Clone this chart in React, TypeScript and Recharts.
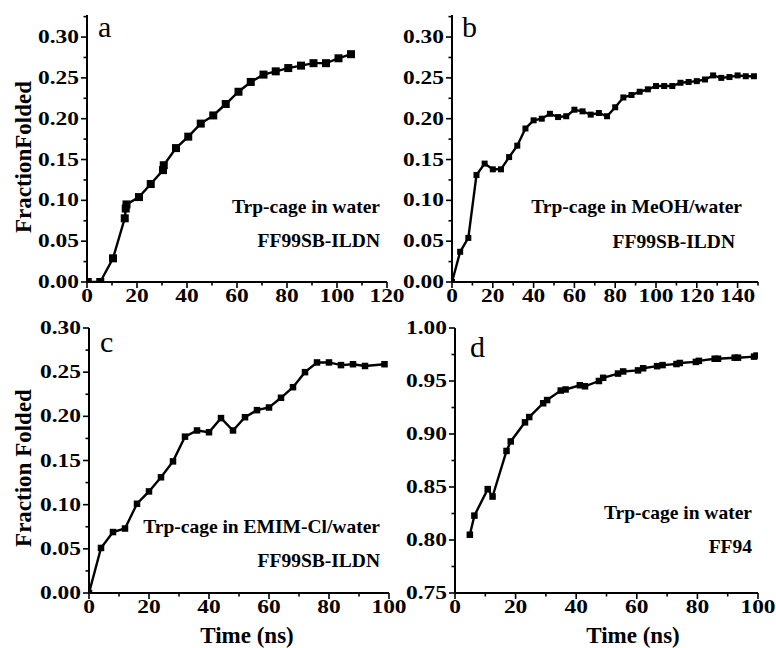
import React from "react";
import { LineChart, Line, XAxis, YAxis } from "recharts";

// panel a: Trp-cage in water, FF99SB-ILDN
const timeA = [0.3, 5.3, 10.4, 15.1, 15.5, 15.8, 20.8, 25.5, 30.4, 30.7, 35.6, 40.5, 45.5, 50.5, 55.5, 60.6, 65.5, 70.6, 75.5, 80.5, 85.6, 90.6, 95.6, 100.6, 105.6];
const foldA = [0, 0, 0.029, 0.078, 0.09, 0.095, 0.104, 0.12, 0.137, 0.143, 0.164, 0.178, 0.194, 0.204, 0.218, 0.233, 0.245, 0.254, 0.258, 0.262, 0.265, 0.268, 0.268, 0.274, 0.279];

// panel b: Trp-cage in MeOH/water
const timeB = [0, 4, 8, 12, 16, 20, 24, 28, 32, 36, 40, 44, 48, 52, 56, 60, 64, 68, 72, 76, 80, 84, 88, 92, 96, 100, 104, 108, 112, 116, 120, 124, 128, 132, 136, 140, 144, 148];
const foldB = [0, 0.037, 0.054, 0.131, 0.145, 0.138, 0.138, 0.153, 0.167, 0.188, 0.198, 0.2, 0.206, 0.202, 0.203, 0.211, 0.209, 0.205, 0.207, 0.203, 0.214, 0.226, 0.229, 0.233, 0.236, 0.24, 0.24, 0.24, 0.244, 0.245, 0.246, 0.248, 0.253, 0.25, 0.251, 0.253, 0.252, 0.252];

// panel c: Trp-cage in EMIM-Cl/water
const timeC = [0, 4, 8, 12, 16, 20, 24, 28, 32, 36, 40, 44, 48, 52, 56, 60, 64, 68, 72, 76, 80, 84, 88, 92, 98.5];
const foldC = [0, 0.051, 0.069, 0.073, 0.101, 0.115, 0.131, 0.149, 0.177, 0.184, 0.182, 0.198, 0.184, 0.199, 0.207, 0.21, 0.221, 0.233, 0.25, 0.261, 0.261, 0.258, 0.259, 0.257, 0.259];

// panel d: Trp-cage in water, FF94
const timeD = [4.9, 6.4, 10.8, 12.4, 17.0, 18.4, 23.1, 24.5, 29.1, 30.4, 34.9, 36.5, 41.2, 42.9, 47.5, 48.9, 53.8, 55.5, 60.4, 62.1, 66.7, 68.5, 73.1, 74.2, 79.5, 80.5, 85.7, 86.8, 92.3, 93.4, 98.7, 99.5];
const foldD = [0.805, 0.823, 0.848, 0.841, 0.884, 0.893, 0.911, 0.916, 0.929, 0.932, 0.941, 0.942, 0.946, 0.945, 0.95, 0.953, 0.957, 0.959, 0.96, 0.962, 0.964, 0.965, 0.966, 0.967, 0.968, 0.969, 0.971, 0.971, 0.972, 0.972, 0.973, 0.974];

// ticks
const xTicks120 = [0, 10, 20, 30, 40, 50, 60, 70, 80, 90, 100, 110, 120];
const xLabels120 = [0, 20, 40, 60, 80, 100, 120];
const xTicks150 = [0, 10, 20, 30, 40, 50, 60, 70, 80, 90, 100, 110, 120, 130, 140, 150];
const xLabels150 = [0, 20, 40, 60, 80, 100, 120, 140];
const xTicks100 = [0, 10, 20, 30, 40, 50, 60, 70, 80, 90, 100];
const xLabels100 = [0, 20, 40, 60, 80, 100];
const yTicksLow = [0, 0.025, 0.05, 0.075, 0.1, 0.125, 0.15, 0.175, 0.2, 0.225, 0.25, 0.275, 0.3, 0.325];
const yLabelsLow = [0, 0.05, 0.1, 0.15, 0.2, 0.25, 0.3];
const yTicksHigh = [0.75, 0.775, 0.8, 0.825, 0.85, 0.875, 0.9, 0.925, 0.95, 0.975, 1.0];
const yLabelsHigh = [0.75, 0.8, 0.85, 0.9, 0.95, 1.0];

const SERIF = '"Liberation Serif", "Times New Roman", serif';

const has = (list: number[], v: number) => list.some((m) => Math.abs(m - v) < 1e-6);

const makeYTick = (labels: number[]) => (props: any) => {
  const { x, y, payload } = props;
  const major = has(labels, payload.value);
  const len = major ? 6 : 3.5;
  return (
    <g>
      <line x1={x - len} y1={y} x2={x} y2={y} stroke="#000" strokeWidth={1.6} />
      {major && (
        <text
          transform={`translate(${x - 8},${y}) scale(1.3,1)`}
          textAnchor="end"
          dy="0.34em"
          fontFamily={SERIF}
          fontWeight="bold"
          fontSize={18}
          fill="#000"
        >
          {payload.value.toFixed(2)}
        </text>
      )}
    </g>
  );
};

const makeXTick = (labels: number[]) => (props: any) => {
  const { x, y, payload } = props;
  const major = has(labels, payload.value);
  const len = major ? 6 : 3.5;
  return (
    <g>
      <line x1={x} y1={y} x2={x} y2={y + len} stroke="#000" strokeWidth={1.6} />
      {major && (
        <text
          transform={`translate(${x},${y + 20}) scale(1.3,1)`}
          textAnchor="middle"
          fontFamily={SERIF}
          fontWeight="bold"
          fontSize={18}
          fill="#000"
        >
          {payload.value}
        </text>
      )}
    </g>
  );
};

const squareDot = (size: number) => (props: any) => {
  const { cx, cy, index } = props;
  return <rect key={index} x={cx - size / 2} y={cy - size / 2} width={size} height={size} fill="#000" />;
};

type PanelProps = {
  left: number;
  top: number;
  width: number;
  height: number;
  margin: { top: number; right: number; left: number; bottom: number };
  yWidth: number;
  xHeight: number;
  times: number[];
  values: number[];
  xDomain: [number, number];
  xTicks: number[];
  xLabels: number[];
  yDomain: [number, number];
  yTicks: number[];
  yLabels: number[];
  dotSize: number;
  children?: React.ReactNode;
};

const Panel = (p: PanelProps) => {
  const data = p.times.map((t, i) => ({ t, f: p.values[i] }));
  return (
    <div style={{ position: "absolute", left: p.left, top: p.top }}>
      <LineChart width={p.width} height={p.height} data={data} margin={p.margin}>
        <XAxis
          dataKey="t"
          type="number"
          domain={p.xDomain}
          ticks={p.xTicks}
          interval={0}
          tickSize={0}
          tickMargin={0}
          tickLine={false}
          height={p.xHeight}
          axisLine={{ stroke: "#000", strokeWidth: 2 }}
          tick={makeXTick(p.xLabels)}
          allowDataOverflow
        />
        <XAxis
          xAxisId="top"
          orientation="top"
          type="number"
          domain={p.xDomain}
          height={0}
          tick={false}
          tickLine={false}
          axisLine={{ stroke: "#000", strokeWidth: 2 }}
        />
        <YAxis
          type="number"
          domain={p.yDomain}
          ticks={p.yTicks}
          interval={0}
          tickSize={0}
          tickMargin={0}
          tickLine={false}
          width={p.yWidth}
          axisLine={{ stroke: "#000", strokeWidth: 2 }}
          tick={makeYTick(p.yLabels)}
          allowDataOverflow
        />
        <YAxis
          yAxisId="right"
          orientation="right"
          type="number"
          domain={p.yDomain}
          width={0}
          tick={false}
          tickLine={false}
          axisLine={{ stroke: "#000", strokeWidth: 2 }}
        />
        <Line
          type="linear"
          dataKey="f"
          stroke="#000"
          strokeWidth={2.4}
          dot={squareDot(p.dotSize)}
          activeDot={false}
          isAnimationActive={false}
        />
        {p.children}
      </LineChart>
    </div>
  );
};

const letterStyle = { fontFamily: SERIF, fontSize: 30, fill: "#000" } as const;
const noteStyle = { fontFamily: SERIF, fontSize: 19.5, fontWeight: "bold", fill: "#000" } as const;
const axisStyle = { fontFamily: SERIF, fontSize: 23, fontWeight: "bold", fill: "#000" } as const;

export default function App() {
  return (
    <div style={{ position: "absolute", left: 0, top: 0, width: 776, height: 648, background: "#fff", overflow: "hidden" }}>
      <Panel
        left={0}
        top={0}
        width={420}
        height={320}
        margin={{ top: 15, right: 33, left: 0, bottom: 0 }}
        yWidth={87}
        xHeight={38}
        times={timeA}
        values={foldA}
        xDomain={[0, 120]}
        xTicks={xTicks120}
        xLabels={xLabels120}
        yDomain={[0, 0.327]}
        yTicks={yTicksLow}
        yLabels={yLabelsLow}
        dotSize={8}
      >
        <text x={98} y={37} {...letterStyle}>a</text>
        <text x={380} y={213} textAnchor="end" {...noteStyle}>Trp-cage in water</text>
        <text x={380} y={247} textAnchor="end" {...noteStyle}>FF99SB-ILDN</text>
        <text transform="translate(31,157) rotate(-90)" textAnchor="middle" {...axisStyle}>FractionFolded</text>
      </Panel>
      <Panel
        left={390}
        top={0}
        width={386}
        height={320}
        margin={{ top: 15, right: 18, left: 0, bottom: 0 }}
        yWidth={62}
        xHeight={38}
        times={timeB}
        values={foldB}
        xDomain={[0, 150]}
        xTicks={xTicks150}
        xLabels={xLabels150}
        yDomain={[0, 0.327]}
        yTicks={yTicksLow}
        yLabels={yLabelsLow}
        dotSize={6}
      >
        <text x={72} y={37} {...letterStyle}>b</text>
        <text x={352} y={213} textAnchor="end" {...noteStyle}>Trp-cage in MeOH/water</text>
        <text x={345} y={248} textAnchor="end" {...noteStyle}>FF99SB-ILDN</text>
      </Panel>
      <Panel
        left={0}
        top={310}
        width={420}
        height={338}
        margin={{ top: 18, right: 31, left: 0, bottom: 0 }}
        yWidth={89}
        xHeight={55}
        times={timeC}
        values={foldC}
        xDomain={[0, 100]}
        xTicks={xTicks100}
        xLabels={xLabels100}
        yDomain={[0, 0.3]}
        yTicks={yTicksLow.slice(0, 13)}
        yLabels={yLabelsLow}
        dotSize={6.5}
      >
        <text x={100} y={42} {...letterStyle}>c</text>
        <text x={380} y={223} textAnchor="end" {...noteStyle}>Trp-cage in EMIM-Cl/water</text>
        <text x={380} y={257} textAnchor="end" {...noteStyle}>FF99SB-ILDN</text>
        <text transform="translate(31,158) rotate(-90)" textAnchor="middle" {...axisStyle}>Fraction Folded</text>
        <text x={247} y={333} textAnchor="middle" {...axisStyle}>Time (ns)</text>
      </Panel>
      <Panel
        left={390}
        top={310}
        width={386}
        height={338}
        margin={{ top: 18, right: 18, left: 0, bottom: 0 }}
        yWidth={65}
        xHeight={55}
        times={timeD}
        values={foldD}
        xDomain={[0, 100]}
        xTicks={xTicks100}
        xLabels={xLabels100}
        yDomain={[0.75, 1.0]}
        yTicks={yTicksHigh}
        yLabels={yLabelsHigh}
        dotSize={6.5}
      >
        <text x={80} y={47} {...letterStyle}>d</text>
        <text x={362} y={209} textAnchor="end" {...noteStyle}>Trp-cage in water</text>
        <text x={362} y={243} textAnchor="end" {...noteStyle}>FF94</text>
        <text x={243} y={333} textAnchor="middle" {...axisStyle}>Time (ns)</text>
      </Panel>
    </div>
  );
}
